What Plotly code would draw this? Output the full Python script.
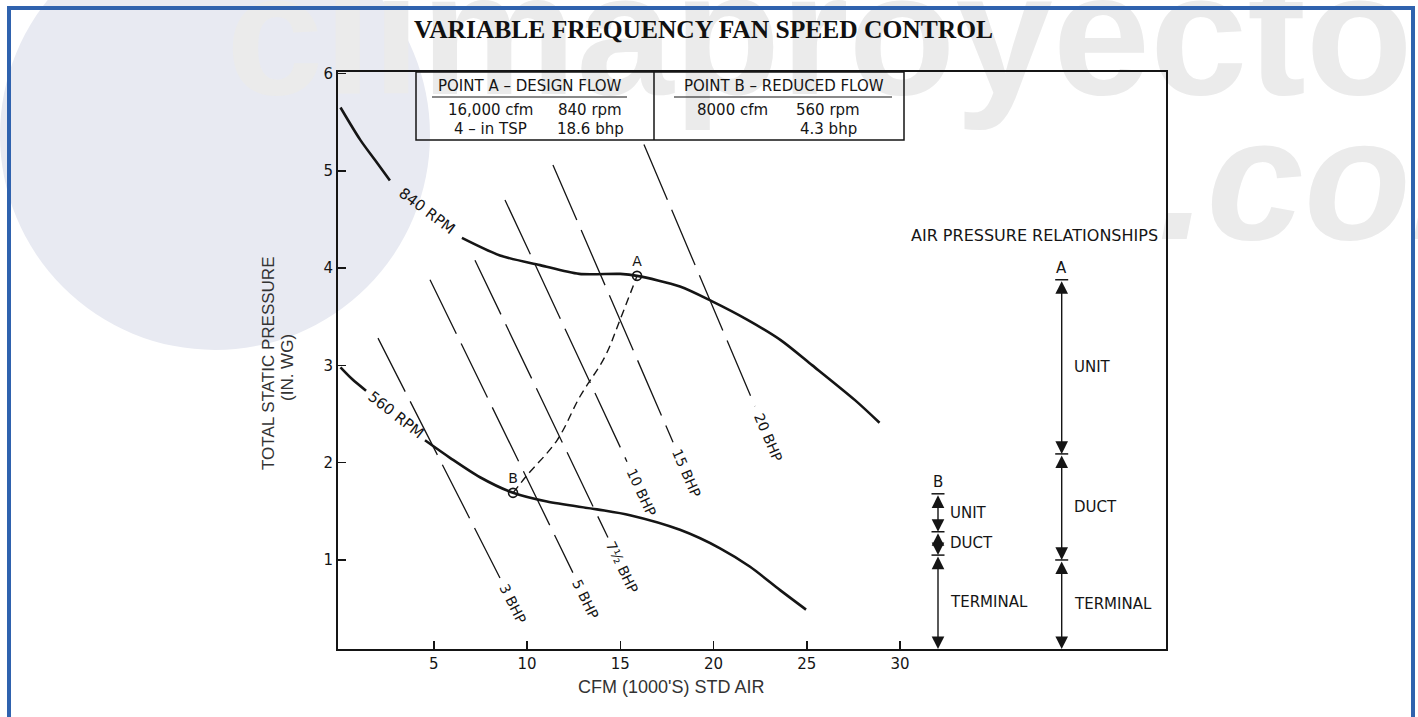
import math
import plotly.graph_objects as go

# ---------------- data ----------------
rpm840_x = [0.0, 1.05, 1.85, 2.65, None, 6.51, 8.55, 10.7, 12.8, 15.0, 15.9, 18.2, 19.9, 21.8, 23.6, 25.3, 27.6, 28.9]
rpm840_y = [5.65, 5.32, 5.11, 4.90, None, 4.31, 4.13, 4.03, 3.94, 3.94, 3.92, 3.81, 3.66, 3.47, 3.26, 3.00, 2.64, 2.41]

rpm560_x = [0.0, 0.62, 1.37, None, 4.53, 5.87, 7.48, 9.25, 11.07, 13.75, 15.52, 18.2, 20.35, 21.96, 23.57, 24.96]
rpm560_y = [2.98, 2.86, 2.74, None, 2.23, 2.05, 1.85, 1.69, 1.60, 1.52, 1.46, 1.31, 1.12, 0.93, 0.69, 0.49]

system_x = [9.25, 10.0, 11.61, 12.84, 14.18, 14.99, 15.9]
system_y = [1.69, 1.87, 2.23, 2.68, 3.09, 3.47, 3.92]

point_names = ["A", "B"]
point_x = [15.9, 9.25]
point_y = [3.92, 1.69]

bhp_labels = ["3 BHP", "5 BHP", "7½ BHP", "10 BHP", "15 BHP", "20 BHP"]
bhp_x_top = [2.01, 4.80, 7.21, 8.82, 11.39, 16.27]
bhp_y_top = [3.28, 3.88, 4.08, 4.70, 5.06, 5.27]
bhp_x_end = [8.55, 12.46, 14.34, 15.36, 17.83, 22.22]
bhp_y_end = [0.815, 0.87, 1.23, 2.01, 2.21, 2.58]

x_ticks = [5, 10, 15, 20, 25, 30]
y_ticks = [1, 2, 3, 4, 5, 6]

pressure_parts = ["UNIT", "DUCT", "TERMINAL"]
levels_A = [3.88, 2.09, 1.00]   # top, unit/duct, duct/terminal
levels_B = [1.68, 1.29, 1.05]

design_title = "POINT A – DESIGN FLOW"
design_rows = [["16,000 cfm", "840 rpm"], ["4 – in TSP", "18.6 bhp"]]
reduced_title = "POINT B – REDUCED FLOW"
reduced_rows = [["8000 cfm", "560 rpm"], ["", "4.3 bhp"]]

# ---------------- layout geometry ----------------
W, H = 1418, 717
L, R, T, B = 338, 1166, 72, 649
XR = [-0.134, 44.26]
YR = [0.085, 6.015]
SX = (R - L) / (XR[1] - XR[0])
SY = (B - T) / (YR[1] - YR[0])


def px2x(p):
    return XR[0] + (p - L) / SX


def py2y(p):
    return YR[0] + (B - p) / SY


def pxp(p):
    return (p - L) / (R - L)


def pyp(p):
    return (B - p) / (B - T)


INK = "#151515"
LET = "DejaVu Sans"
WM = "#ebebeb"

fig = go.Figure()

# watermark text (background)
fig.add_trace(go.Scatter(
    x=[px2x(868)], y=[py2y(138)], mode="text", text=["<b>climaproyectos</b>"],
    textposition="top center", cliponaxis=False, hoverinfo="skip", showlegend=False,
    textfont=dict(family="Liberation Sans", size=175, color=WM)))
fig.add_trace(go.Scatter(
    x=[px2x(1158)], y=[py2y(283)], mode="text", text=["<b><i>.com</i></b>"],
    textposition="top right", cliponaxis=False, hoverinfo="skip", showlegend=False,
    textfont=dict(family="Liberation Sans", size=175, color=WM)))

# BHP lines
for i in range(len(bhp_labels)):
    fig.add_trace(go.Scatter(
        x=[bhp_x_top[i], bhp_x_end[i]], y=[bhp_y_top[i], bhp_y_end[i]], mode="lines",
        line=dict(color=INK, width=1.3, dash="60px,11px"), hoverinfo="skip", showlegend=False))

# system curve
fig.add_trace(go.Scatter(x=system_x, y=system_y, mode="lines",
                         line=dict(color=INK, width=1.4, dash="8px,5px", shape="spline"),
                         hoverinfo="skip", showlegend=False))
# fan curves
for xs, ys in [(rpm840_x, rpm840_y), (rpm560_x, rpm560_y)]:
    fig.add_trace(go.Scatter(x=xs, y=ys, mode="lines", connectgaps=False,
                             line=dict(color=INK, width=2.6, shape="spline", smoothing=0.8),
                             hoverinfo="skip", showlegend=False))
# points A, B
fig.add_trace(go.Scatter(x=point_x, y=point_y, mode="markers+text", text=point_names,
                         textposition="top center",
                         textfont=dict(family=LET, size=14, color=INK),
                         marker=dict(symbol="circle-open", size=9, color=INK, line=dict(width=1.6)),
                         hoverinfo="skip", showlegend=False))

ann = []
shapes = []

# background disc + blue frame
shapes.append(dict(type="circle", xref="paper", yref="paper", layer="below",
                   x0=pxp(0), x1=pxp(430), y0=pyp(350), y1=pyp(-80),
                   fillcolor="#e8eaf2", line=dict(width=0)))
shapes.append(dict(type="rect", xref="paper", yref="paper", layer="above",
                   x0=pxp(9), x1=pxp(1413), y0=pyp(740), y1=pyp(8),
                   line=dict(color="#2f62ae", width=4)))

# BHP labels along the lines
for i, lab in enumerate(bhp_labels):
    dxp = (bhp_x_end[i] - bhp_x_top[i]) * SX
    dyp = (bhp_y_top[i] - bhp_y_end[i]) * SY
    ln = math.hypot(dxp, dyp)
    ang = math.degrees(math.atan2(dyp, dxp))
    off = 6 + len(lab) * 4.6
    ann.append(dict(x=bhp_x_end[i] + dxp / ln * off / SX, y=bhp_y_end[i] - dyp / ln * off / SY,
                    text=lab, showarrow=False, textangle=ang,
                    font=dict(family=LET, size=14, color=INK)))

# RPM labels (in the gaps of the curves)
ann.append(dict(x=px2x(427), y=py2y(211), text="840 RPM", showarrow=False, textangle=37,
                font=dict(family=LET, size=15, color=INK)))
ann.append(dict(x=px2x(396), y=py2y(415), text="560 RPM", showarrow=False, textangle=38,
                font=dict(family=LET, size=15, color=INK)))

# info box
bx0, bxm, bx1 = px2x(416), px2x(654), px2x(904)
by0, by1 = py2y(140), YR[1]
shapes.append(dict(type="rect", x0=bx0, x1=bx1, y0=by0, y1=by1, line=dict(color=INK, width=1.5)))
shapes.append(dict(type="line", x0=bxm, x1=bxm, y0=by0, y1=by1, line=dict(color=INK, width=1.5)))
shapes.append(dict(type="line", x0=px2x(432), x1=px2x(627), y0=py2y(97), y1=py2y(97), line=dict(color=INK, width=1.2)))
shapes.append(dict(type="line", x0=px2x(674), x1=px2x(892), y0=py2y(97), y1=py2y(97), line=dict(color=INK, width=1.2)))
boxfont = dict(family=LET, size=15, color=INK)
ann.append(dict(x=px2x(530), y=py2y(86), text=design_title, showarrow=False, font=boxfont))
ann.append(dict(x=px2x(784), y=py2y(86), text=reduced_title, showarrow=False, font=boxfont))
row_y = [py2y(110), py2y(129)]
for r, row in enumerate(design_rows):
    for c, txt in enumerate(row):
        ann.append(dict(x=px2x([490, 590][c]), y=row_y[r], text=txt, showarrow=False, font=boxfont))
for r, row in enumerate(reduced_rows):
    for c, txt in enumerate(row):
        if txt:
            ann.append(dict(x=px2x([732, 828][c]), y=row_y[r], text=txt, showarrow=False, font=boxfont))

# air pressure relationships
ann.append(dict(x=px2x(1034), y=py2y(235), text="AIR PRESSURE RELATIONSHIPS", showarrow=False,
                font=dict(family=LET, size=16, color=INK)))
ybot = YR[0]
relfont = dict(family=LET, size=15, color=INK)
for name, colx, levels in [("A", px2x(1061.7), levels_A), ("B", px2x(938), levels_B)]:
    pts = levels + [ybot]
    half = 6.5 / SX
    for lv in levels:
        shapes.append(dict(type="line", x0=colx - half, x1=colx + half, y0=lv, y1=lv,
                           line=dict(color=INK, width=1.5)))
    ann.append(dict(x=colx, y=levels[0], yshift=12, text=name, showarrow=False, font=relfont))
    for k in range(3):
        ann.append(dict(x=colx, y=pts[k + 1], ax=colx, ay=pts[k], axref="x", ayref="y",
                        xref="x", yref="y", text="", showarrow=True, arrowside="end+start",
                        arrowhead=2, arrowsize=1.8, arrowwidth=1.4, arrowcolor=INK,
                        standoff=0, startstandoff=0))
        ann.append(dict(x=colx + 10 / SX, y=(pts[k] + pts[k + 1]) / 2, text=pressure_parts[k],
                        xanchor="left", showarrow=False, font=relfont))

# title and axis titles
ann.append(dict(xref="paper", yref="paper", x=pxp(703), y=pyp(30), xanchor="center", yanchor="middle",
                text="<b>VARIABLE FREQUENCY FAN SPEED CONTROL</b>",
                showarrow=False, font=dict(family="Liberation Serif", size=25.5, color="#111")))
ann.append(dict(xref="paper", yref="paper", x=pxp(671), y=pyp(687), xanchor="center", yanchor="middle",
                text="CFM (1000'S) STD AIR",
                showarrow=False, font=dict(family="Liberation Sans", size=18, color="#333")))
ann.append(dict(xref="paper", yref="paper", x=pxp(269), y=pyp(364), xanchor="center", yanchor="middle",
                text="TOTAL STATIC PRESSURE",
                showarrow=False, textangle=-90, font=dict(family="Liberation Sans", size=17, color="#333")))
ann.append(dict(xref="paper", yref="paper", x=pxp(287), y=pyp(368), xanchor="center", yanchor="middle",
                text="(IN. WG)",
                showarrow=False, textangle=-90, font=dict(family="Liberation Sans", size=17, color="#333")))

axis_common = dict(showline=True, mirror=True, linecolor=INK, linewidth=2, ticks="inside",
                   ticklen=8, tickwidth=1.5, tickcolor=INK, showgrid=False, zeroline=False,
                   tickfont=dict(family=LET, size=15, color=INK), fixedrange=True)

fig.update_layout(
    width=W, height=H,
    margin=dict(l=L, r=W - R, t=T, b=H - B, pad=0),
    paper_bgcolor="white", plot_bgcolor="rgba(0,0,0,0)",
    xaxis=dict(range=XR, tickvals=x_ticks, ticktext=[str(v) for v in x_ticks], **axis_common),
    yaxis=dict(range=YR, tickvals=y_ticks, ticktext=[str(v) for v in y_ticks], **axis_common),
    annotations=ann, shapes=shapes, showlegend=False,
)

fig.write_html("out.html", config={"displayModeBar": False, "staticPlot": True},
               post_script="document.body.style.margin='0px';")
